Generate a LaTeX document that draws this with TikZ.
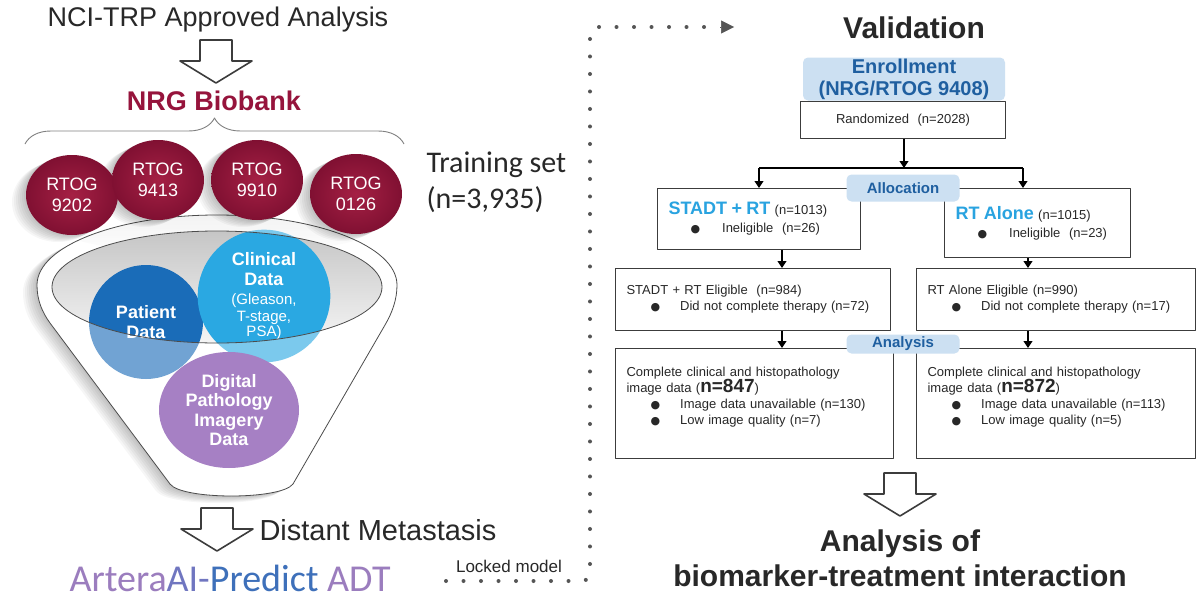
\documentclass[tikz,border=0pt]{standalone}
\usepackage{fontspec}
\setmainfont{Liberation Sans}
\newfontfamily\calibrifont{Carlito}
\newfontfamily\symfont{DejaVu Sans}
\usetikzlibrary{arrows.meta,shapes.geometric,decorations.pathreplacing,positioning}

\definecolor{nrgred}{RGB}{150,20,60}
\definecolor{circred}{RGB}{128,16,50}
\definecolor{circredin}{RGB}{165,32,68}
\definecolor{patblue}{RGB}{26,108,184}
\definecolor{clinblue}{RGB}{42,168,226}
\definecolor{pathpurple}{RGB}{166,128,196}
\definecolor{labfill}{RGB}{204,224,242}
\definecolor{labtext}{RGB}{31,95,160}
\definecolor{armblue}{RGB}{41,163,224}
\definecolor{txtgray}{RGB}{40,40,40}
\definecolor{boxline}{RGB}{60,60,60}
\definecolor{dotgray}{RGB}{85,85,85}
\definecolor{artpurple}{RGB}{155,125,190}
\definecolor{artmid}{RGB}{112,118,192}
\definecolor{artblue}{RGB}{62,112,186}

\newcommand\fs[2]{\fontsize{#1}{#2}\selectfont}
\newcommand\blt{{\symfont\fs{11}{11}●}}
% hollow down arrow, top centre given
\newcommand\downblock[1]{\draw[blockarrow, shift={#1}] (-16,0) -- (16,0) -- (16,21) -- (36,21) -- (0,43) -- (-36,21) -- (-16,21) -- cycle;}
\def\funnelpath{(37,285) .. controls (37,300) and (42,312) .. (50,323) -- (170,484) .. controls (182,500) and (281,500) .. (293,484) -- (385,325) .. controls (392,313) and (397,300) .. (397,285) .. controls (397,246) and (316,215) .. (217,215) .. controls (118,215) and (37,246) .. (37,285) -- cycle}

\tikzset{
  rtog/.style={ellipse, minimum width=92pt, minimum height=80pt, inner sep=0pt, shade, inner color=circredin, outer color=circred, text=white, align=center, font=\fs{18}{21}},
  blob/.style={circle, inner sep=0pt, text=white, align=center},
  flowbox/.style={draw=boxline, line width=1.1pt, anchor=north west, align=left, inner xsep=11pt, inner ysep=2pt, font=\fs{13}{16}, text=txtgray},
  tagbox/.style={fill=labfill, rounded corners=5pt, inner sep=0pt, align=center, text=labtext},
  blockarrow/.style={draw=boxline, line width=1.6pt, fill=white},
  dotline/.style={draw=dotgray, line width=4pt, line cap=round, dash pattern=on 0pt off 17.5pt},
  conn/.style={draw=black, line width=1.1pt},
}

\begin{document}
\begin{tikzpicture}[x=1pt, y=-1pt, >={Triangle[length=7pt,width=9pt]}, line join=round]
\useasboundingbox (0,0) rectangle (1200,613);
\fill[white] (0,0) rectangle (1200,613);

% ---- training side
\node[font=\fs{27}{30}, text=txtgray] (nci) at (218,20) {NCI-TRP Approved Analysis};
\downblock{(216,40)}
\node[font=\bfseries\fs{27}{30}, text=nrgred] (biobank) at (214,101) {NRG Biobank};
\draw[gray, line width=0.9pt, decorate, decoration={brace, amplitude=26pt}] (25,144) -- (404,144);

% funnel with its shadow
\foreach \s in {2,4,...,14}
  \fill[black, opacity=0.035, shift={(-\s,0.5*\s)}] \funnelpath;
\fill[white] \funnelpath;
\begin{scope}
  \clip \funnelpath;
  \shade[top color=gray!30, bottom color=white] (217,215) ellipse [x radius=180, y radius=40];
\end{scope}
\shade[top color=gray!45, bottom color=gray!8] (217,287) ellipse [x radius=165, y radius=56];
\node[blob, fill=patblue, minimum size=114pt, font=\bfseries\fs{18}{20}] (patient) at (146,322) {Patient\\Data};
\node[blob, fill=clinblue, minimum size=114pt, text width=100pt] (clinical) at (264,296)
  {\fs{15}{17}{\bfseries\fs{18}{20}Clinical\\[3pt]Data}\\[2pt](Gleason,\\T-stage,\\PSA)};
\fill[white, opacity=0.38, even odd rule] \funnelpath (217,287) ellipse [x radius=165, y radius=56];
\node[ellipse, fill=pathpurple, minimum width=140pt, minimum height=116pt, inner sep=0pt, text=white, align=center, font=\bfseries\fs{18}{19.5}] (pathology) at (229,410) {Digital\\Pathology\\Imagery\\Data};
\draw[gray!60!black, line width=0.8pt] (217,287) ellipse [x radius=165, y radius=56];
\draw[gray!60!black, line width=0.8pt] \funnelpath;

% trials
\foreach \cx/\cy in {72/195,158/180,257/180,356/194}
  \foreach \s in {2,4,...,14}
    \fill[black, opacity=0.035] (\cx-\s,\cy+0.5*\s) ellipse [x radius=46, y radius=40];
\node[rtog] (r9202) at (72,195) {RTOG\\9202};
\node[rtog] (r9413) at (158,180) {RTOG\\9413};
\node[rtog] (r9910) at (257,180) {RTOG\\9910};
\node[rtog] (r0126) at (356,194) {RTOG\\0126};

\node[anchor=west, align=left, font=\calibrifont\fs{30}{36}, text=txtgray] (trainset) at (423,182) {Training set\\(n=3,935)};

\downblock{(217,508)}
\node[anchor=west, font=\fs{29}{32}, text=txtgray] (metast) at (256,530) {Distant Metastasis};
\node[anchor=west, font=\calibrifont\fs{38}{40}] (artera) at (66,578)
  {{\color{artpurple}Artera}{\color{artmid}AI-}{\color{artblue}Predict}\ {\color{artpurple}ADT}};
\node[font=\fs{17}{20}, text=txtgray] (locked) at (509,566) {Locked model};

% dotted hand-over to validation
\coordinate (dotstart) at (446,581);
\coordinate (dotturn) at (590,581);
\coordinate (dotbend) at (590,27);
\coordinate (dotend) at (712,27);
\coordinate (tipstart) at (720,27);
\coordinate (tipend) at (734,27);
\draw[dotline, rounded corners=8pt] (dotstart) -- (dotturn) -- (dotbend) -- (dotend);
\draw[dotgray, line width=0.5pt, -{Triangle[length=13pt,width=13pt]}] (tipstart) -- (tipend);

% ---- validation side
\node[font=\bfseries\fs{30}{34}, text=txtgray] (valid) at (914,28) {Validation};
\node[flowbox, minimum width=205pt, minimum height=37pt, text width=183pt, align=center] (rand) at (800,101) {Randomized\ \ (n=2028)};
\node[tagbox, minimum width=202pt, minimum height=43pt, font=\bfseries\fs{20}{22}] (enroll) at (904,79) {Enrollment\\(NRG/RTOG 9408)};

\node[flowbox, minimum width=203pt, minimum height=61pt, text width=181pt] (stadt) at (657,188)
  {{\color{armblue}\bfseries\fs{18}{20}STADT + RT} (n=1013)\\[2pt]\hspace*{22pt}\blt\hspace{22pt}Ineligible\ \ (n=26)};
\node[flowbox, minimum width=186pt, minimum height=69pt, text width=164pt] (rtalone) at (944,188)
  {{\color{armblue}\bfseries\fs{18}{20}RT Alone} (n=1015)\\[2pt]\hspace*{22pt}\blt\hspace{22pt}Ineligible\ \ (n=23)};
\node[tagbox, minimum width=113pt, minimum height=27pt, font=\bfseries\fs{15}{18}] (alloc) at (903,188) {Allocation};

\node[flowbox, minimum width=275pt, minimum height=62pt, text width=253pt] (stadtel) at (615,268)
  {STADT + RT Eligible\ \ (n=984)\\\hspace*{24pt}\blt\hspace{20pt}Did not complete therapy (n=72)};
\node[flowbox, minimum width=279pt, minimum height=62pt, text width=257pt] (rtel) at (916,268)
  {RT Alone Eligible (n=990)\\\hspace*{24pt}\blt\hspace{20pt}Did not complete therapy (n=17)};

\node[flowbox, minimum width=278pt, minimum height=110pt, text width=256pt] (stadtan) at (615,348)
  {Complete clinical and histopathology\\image data ({\bfseries\fs{19}{22}n=847})\\\hspace*{24pt}\blt\hspace{20pt}Image data unavailable (n=130)\\\hspace*{24pt}\blt\hspace{20pt}Low image quality (n=7)\\\mbox{}};
\node[flowbox, minimum width=279pt, minimum height=110pt, text width=257pt] (rtan) at (916,348)
  {Complete clinical and histopathology\\image data ({\bfseries\fs{19}{22}n=872})\\\hspace*{24pt}\blt\hspace{20pt}Image data unavailable (n=113)\\\hspace*{24pt}\blt\hspace{20pt}Low image quality (n=5)\\\mbox{}};
\node[tagbox, minimum width=113pt, minimum height=19pt, font=\bfseries\fs{15}{18}] (anlab) at (903,344) {Analysis};

% connectors
\coordinate (split) at (904,168);
\coordinate (lsplit) at (759,168);
\coordinate (rsplit) at (1023,168);
\coordinate (ldown) at (782,0);
\coordinate (rdown) at (1028,0);
\draw[conn, ->] (rand.south -| split) -- (split);
\draw[conn] (lsplit) -- (rsplit);
\draw[conn, ->] (lsplit) -- (lsplit |- stadt.north);
\draw[conn, ->] (rsplit) -- (rsplit |- rtalone.north);
\draw[conn, ->] (ldown |- stadt.south) -- (ldown |- stadtel.north);
\draw[conn, ->] (rdown |- rtalone.south) -- (rdown |- rtel.north);
\draw[conn, ->] (ldown |- stadtel.south) -- (ldown |- stadtan.north);
\draw[conn, ->] (rdown |- rtel.south) -- (rdown |- rtan.north);

\downblock{(900,473)}
\node[align=center, font=\bfseries\fs{30}{35}, text=txtgray] (interact) at (900,558) {Analysis of\\biomarker-treatment interaction};
\end{tikzpicture}
\end{document}
